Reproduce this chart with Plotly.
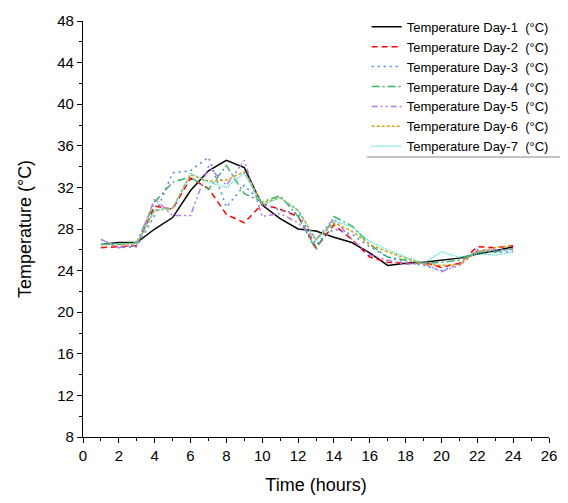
import plotly.graph_objects as go

hours = list(range(1, 25))
day1 = [26.5, 26.7, 26.7, 28.0, 29.1, 31.7, 33.6, 34.6, 33.9, 30.3, 29.0, 28.0, 27.8, 27.2, 26.7, 25.7, 24.5, 24.7, 24.8, 25.0, 25.2, 25.6, 25.9, 26.3]
day2 = [26.2, 26.3, 26.4, 30.2, 29.9, 32.9, 31.9, 29.4, 28.6, 30.4, 29.9, 29.2, 26.2, 28.4, 27.0, 25.3, 24.8, 24.7, 24.8, 24.3, 24.7, 26.3, 26.2, 26.4]
day3 = [27.0, 26.2, 26.3, 29.3, 33.4, 33.6, 34.9, 30.1, 32.2, 30.5, 29.8, 29.5, 26.5, 28.0, 27.5, 26.3, 25.3, 24.8, 24.5, 24.0, 24.6, 26.0, 25.8, 25.8]
day4 = [26.5, 26.5, 26.7, 30.6, 32.5, 33.0, 31.8, 34.1, 31.4, 30.6, 31.2, 29.2, 26.0, 29.2, 28.3, 26.5, 25.3, 25.0, 24.7, 24.8, 25.0, 25.8, 25.8, 26.1]
day5 = [27.0, 26.2, 26.5, 30.9, 29.3, 29.3, 34.0, 32.2, 34.6, 29.2, 29.5, 28.6, 27.0, 29.0, 27.0, 25.5, 25.0, 24.6, 24.7, 23.9, 24.5, 25.9, 26.0, 26.0]
day6 = [26.5, 26.5, 26.6, 29.8, 30.0, 33.2, 32.6, 32.7, 33.5, 30.5, 31.0, 29.8, 27.0, 28.6, 27.8, 26.5, 25.8, 25.2, 24.6, 24.5, 24.6, 25.8, 26.2, 26.4]
day7 = [26.5, 26.6, 26.6, 29.8, 30.0, 33.4, 32.5, 32.0, 33.4, 30.3, 31.0, 29.8, 26.9, 28.8, 28.2, 26.8, 26.0, 25.3, 24.7, 25.8, 25.3, 25.6, 25.5, 25.8]

names = ["Temperature Day-1  (°C)", "Temperature Day-2  (°C)", "Temperature Day-3  (°C)",
         "Temperature Day-4  (°C)", "Temperature Day-5  (°C)", "Temperature Day-6  (°C)",
         "Temperature Day-7  (°C)"]
series = [day1, day2, day3, day4, day5, day6, day7]
colors = ["#000000", "#FF0000", "#4A86E8", "#3CB371", "#B07CE8", "#D4A017", "#40E0D0"]
dashes = ["solid", "6px,4px", "2px,4px", "8px,3px,2px,3px", "6px,3px,2px,3px,2px,3px", "3px,2px", "1px,1px"]

FONT = "Liberation Sans, Arial"

fig = go.Figure()
for n, s, c, d in zip(names, series, colors, dashes):
    fig.add_trace(go.Scatter(x=hours, y=s, mode="lines", name=n,
                             line=dict(color=c, width=1.5, dash=d)))

axis_common = dict(showline=True, linecolor="black", linewidth=1.2, mirror=False,
                   ticks="outside", ticklen=5, tickcolor="black", tickwidth=1,
                   showgrid=False, zeroline=False,
                   tickfont=dict(family=FONT, size=15, color="black"),
                   minor=dict(ticks="outside", ticklen=3, tickcolor="black", tickwidth=1))

fig.update_xaxes(range=[0, 26], tick0=0, dtick=2, minor_dtick=1,
                 title=dict(text="Time (hours)", font=dict(family=FONT, size=18, color="black"), standoff=22),
                 **axis_common)
fig.update_yaxes(range=[8, 48], tick0=8, dtick=4, minor_dtick=2,
                 title=dict(text="Temperature (°C)", font=dict(family=FONT, size=18, color="black"), standoff=20),
                 **axis_common)

fig.update_layout(
    width=552, height=487,
    margin=dict(l=75, r=11, t=13, b=58, autoexpand=False),
    plot_bgcolor="white", paper_bgcolor="white",
    legend=dict(x=1.01, y=1.022, xanchor="right", yanchor="top",
                bgcolor="rgba(255,255,255,0)", font=dict(family=FONT, size=13, color="black"),
                tracegroupgap=0, itemwidth=30),
    shapes=[dict(type="line", xref="paper", yref="paper", x0=0.609, x1=1.024, y0=0.673, y1=0.673,
                 line=dict(color="#888888", width=1))],
)

fig.write_html("out.html")
